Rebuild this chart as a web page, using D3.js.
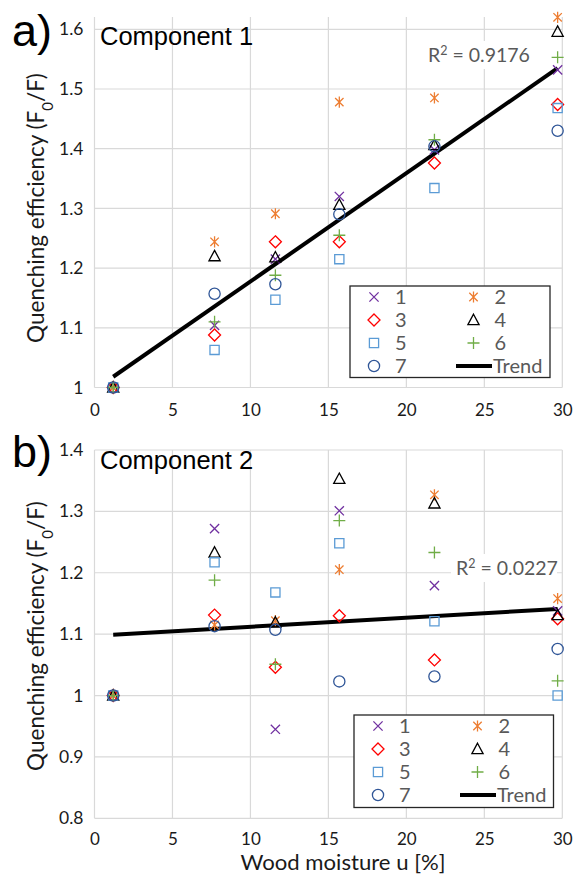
<!DOCTYPE html>
<html><head><meta charset="utf-8">
<script src="https://cdn.jsdelivr.net/npm/d3@7"></script>
<style>body{margin:0;background:#fff}svg{display:block}</style>
</head><body>
<svg id="c" width="583" height="875"></svg>
<script>
// ---- data ----
const moisture = [1.2, 7.7, 11.6, 15.7, 21.8, 29.7];
const seriesNames = ["1","2","3","4","5","6","7"];
const comp1_s1 = [1, 1.104, 1.215, 1.320, 1.398, 1.532];
const comp1_s2 = [1, 1.244, 1.291, 1.478, 1.485, 1.620];
const comp1_s3 = [1, 1.088, 1.244, 1.244, 1.376, 1.474];
const comp1_s4 = [1, 1.220, 1.218, 1.306, 1.406, 1.596];
const comp1_s5 = [1, 1.063, 1.147, 1.215, 1.334, 1.468];
const comp1_s6 = [1, 1.110, 1.188, 1.255, 1.415, 1.553];
const comp1_s7 = [1, 1.157, 1.173, 1.290, 1.404, 1.430];
const comp2_s1 = [1, 1.272, 0.945, 1.301, 1.179, 1.138];
const comp2_s2 = [1, 1.115, 1.122, 1.205, 1.327, 1.158];
const comp2_s3 = [1, 1.131, 1.046, 1.130, 1.058, 1.125];
const comp2_s4 = [1, 1.233, 1.119, 1.353, 1.313, 1.131];
const comp2_s5 = [1, 1.217, 1.168, 1.248, 1.121, 1.000];
const comp2_s6 = [1, 1.188, 1.051, 1.285, 1.233, 1.024];
const comp2_s7 = [1, 1.113, 1.107, 1.023, 1.031, 1.076];
const trend1 = [[1.2, 1.018], [29.7, 1.535]];
const trend2 = [[1.2, 1.099], [29.7, 1.141]];
const r2Values = ["0.9176", "0.0227"];
const xTicks = [0, 5, 10, 15, 20, 25, 30];
const yTicks1 = [1, 1.1, 1.2, 1.3, 1.4, 1.5, 1.6];
const yTicks2 = [0.8, 0.9, 1, 1.1, 1.2, 1.3, 1.4];

// ---- styles ----
const colors = ["#7030A0", "#ED7D31", "#FF0000", "#000000", "#5B9BD5", "#70AD47", "#2F5597"];
const shapes = ["x", "star", "diamond", "triangle", "square", "plus", "circle"];
const FONT = "Lato, 'Open Sans', sans-serif";
const svg = d3.select("#c");

function markerPath(shape) {
  const p = d3.path();
  if (shape === "x") { const s = 4.6; p.moveTo(-s,-s); p.lineTo(s,s); p.moveTo(-s,s); p.lineTo(s,-s); }
  else if (shape === "star") { const s = 4.2; p.moveTo(-s,-s); p.lineTo(s,s); p.moveTo(-s,s); p.lineTo(s,-s); p.moveTo(0,-5.6); p.lineTo(0,5.6); }
  else if (shape === "diamond") { const s = 6; p.moveTo(0,-s); p.lineTo(s,0); p.lineTo(0,s); p.lineTo(-s,0); p.closePath(); }
  else if (shape === "triangle") { p.moveTo(0,-5.8); p.lineTo(5.6,4.6); p.lineTo(-5.6,4.6); p.closePath(); }
  else if (shape === "square") { const s = 4.6; p.rect(-s,-s,2*s,2*s); }
  else if (shape === "plus") { const s = 6; p.moveTo(-s,0); p.lineTo(s,0); p.moveTo(0,-s); p.lineTo(0,s); }
  else if (shape === "circle") { p.arc(0,0,5.6,0,2*Math.PI); }
  return p.toString();
}

function panel(cfg) {
  const x = d3.scaleLinear().domain([0, 30]).range([94.5, 562.3]);
  const y = d3.scaleLinear().domain(cfg.yDomain).range(cfg.yRange);
  const g = svg.append("g");
  // grid
  const grid = g.append("g").attr("stroke", "#d9d9d9").attr("stroke-width", 1.2);
  grid.selectAll("line.h").data(cfg.yTicks).join("line")
    .attr("x1", x(0)).attr("x2", x(30)).attr("y1", d => y(d)).attr("y2", d => y(d));
  grid.selectAll("line.v").data(xTicks).join("line").attr("class","v")
    .attr("x1", d => x(d)).attr("x2", d => x(d)).attr("y1", cfg.plotTop).attr("y2", y(cfg.yDomain[0]));
  // axes labels via d3 axes
  const yAxis = d3.axisLeft(y).tickValues(cfg.yTicks).tickSize(0).tickPadding(11)
    .tickFormat(d => d3.format("~g")(d));
  const ya = g.append("g").attr("transform", `translate(${x(0)},0)`).call(yAxis);
  ya.select(".domain").remove();
  ya.selectAll("text").attr("font-family", FONT).attr("font-size", 17.5).attr("fill", "#1a1a1a");
  const xAxis = d3.axisBottom(x).tickValues(xTicks).tickSize(0).tickPadding(0);
  const xa = g.append("g").attr("transform", `translate(0,${cfg.xLabelY})`).call(xAxis);
  xa.select(".domain").remove();
  xa.selectAll("text").attr("font-family", FONT).attr("font-size", 17).attr("fill", "#1a1a1a").attr("dy", "0.35em");
  // y title
  g.append("text").attr("transform", `translate(44,${cfg.titleY}) rotate(-90)`)
    .attr("text-anchor", "middle").attr("font-family", FONT).attr("font-size", 22.5).attr("fill", "#1a1a1a")
    .html('Quenching efficiency (F<tspan baseline-shift="sub" font-size="15">0</tspan>/F)');
  // panel letter & title
  g.append("text").attr("x", 12).attr("y", cfg.letterY).attr("font-family", "Liberation Sans, Arial, sans-serif")
    .attr("font-size", 45).attr("fill", "#000").text(cfg.letter);
  g.append("text").attr("x", 100).attr("y", cfg.compY).attr("font-family", "Liberation Sans, Arial, sans-serif")
    .attr("font-size", 25.5).attr("fill", "#000").text(cfg.comp);
  // trend
  g.append("line").attr("x1", x(cfg.trend[0][0])).attr("y1", y(cfg.trend[0][1]))
    .attr("x2", x(cfg.trend[1][0])).attr("y2", y(cfg.trend[1][1]))
    .attr("stroke", "#000").attr("stroke-width", 4);
  // markers
  cfg.series.forEach((vals, i) => {
    g.append("g").selectAll("path").data(vals.map((v, j) => [moisture[j], v])).join("path")
      .attr("transform", d => `translate(${x(d[0])},${y(d[1])})`)
      .attr("d", markerPath(shapes[i])).attr("fill", "none")
      .attr("stroke", colors[i]).attr("stroke-width", 1.3);
  });
  // R2 label
  const rl = g.append("g");
  rl.append("rect").attr("x", cfg.r2x - 5).attr("y", cfg.r2y - 14).attr("width", 106).attr("height", 28).attr("fill", "#fff");
  rl.append("text").attr("x", cfg.r2x).attr("y", cfg.r2y + 7)
    .attr("font-family", FONT).attr("font-size", 19.5).attr("fill", "#595959")
    .html(`R<tspan font-size="12.5" dy="-7.5">2</tspan><tspan dy="7.5"> = ${cfg.r2}</tspan>`);
  // legend
  const L = cfg.legend;
  const lg = g.append("g");
  lg.append("rect").attr("x", L.x).attr("y", L.y).attr("width", L.w).attr("height", L.h)
    .attr("fill", "#fff").attr("stroke", "#262626").attr("stroke-width", 1.3);
  const items = seriesNames.map((n, i) => ({n, i}));
  items.forEach(({n, i}) => {
    const col = i % 2, row = Math.floor(i / 2);
    const sx = L.x + 24 + col * 99.5, sy = L.y + 11 + row * 23;
    lg.append("path").attr("transform", `translate(${sx},${sy})`).attr("d", markerPath(shapes[i]))
      .attr("fill", "none").attr("stroke", colors[i]).attr("stroke-width", 1.3);
    lg.append("text").attr("x", sx + 21).attr("y", sy).attr("dy", "0.36em")
      .attr("font-family", FONT).attr("font-size", 20).attr("fill", "#595959").text(n);
  });
  const ty = L.y + 11 + 3 * 23;
  lg.append("line").attr("x1", L.x + 106).attr("x2", L.x + 142).attr("y1", ty).attr("y2", ty)
    .attr("stroke", "#000").attr("stroke-width", 4);
  lg.append("text").attr("x", L.x + 143).attr("y", ty).attr("dy", "0.36em")
    .attr("font-family", FONT).attr("font-size", 20).attr("fill", "#595959").text("Trend");
}

panel({
  yDomain: [1, 1.6], yRange: [387.5, 29.3], yTicks: yTicks1, plotTop: 17, xLabelY: 410,
  titleY: 208, letter: "a)", letterY: 46, comp: "Component 1", compY: 45,
  trend: trend1, r2: r2Values[0], r2x: 428, r2y: 55,
  series: [comp1_s1, comp1_s2, comp1_s3, comp1_s4, comp1_s5, comp1_s6, comp1_s7],
  legend: {x: 350, y: 286, w: 200, h: 91.5}
});
panel({
  yDomain: [0.8, 1.4], yRange: [818.3, 450], yTicks: yTicks2, plotTop: 450, xLabelY: 839.5,
  titleY: 636, letter: "b)", letterY: 467, comp: "Component 2", compY: 469,
  trend: trend2, r2: r2Values[1], r2x: 456, r2y: 568,
  series: [comp2_s1, comp2_s2, comp2_s3, comp2_s4, comp2_s5, comp2_s6, comp2_s7],
  legend: {x: 354, y: 715, w: 199.5, h: 92.5}
});
svg.append("text").attr("x", 343).attr("y", 870.3).attr("text-anchor", "middle")
  .attr("textLength", 205).attr("lengthAdjust", "spacingAndGlyphs")
  .attr("font-family", FONT).attr("font-size", 20.5).attr("fill", "#1a1a1a").text("Wood moisture u [%]");
</script>
</body></html>
